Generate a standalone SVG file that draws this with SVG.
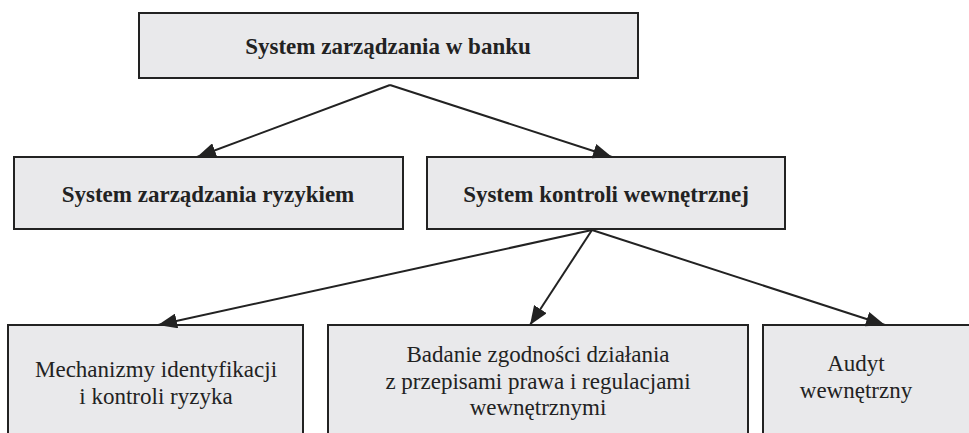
<svg xmlns="http://www.w3.org/2000/svg" width="969" height="433" viewBox="0 0 969 433">
<style>
.box{fill:#e9e9eb;stroke:#222;stroke-width:2}
.b{font-family:'Liberation Serif','Times New Roman','DejaVu Serif',serif;font-weight:bold;font-size:23px;fill:#222;text-anchor:middle}
.r{font-family:'Liberation Serif','Times New Roman','DejaVu Serif',serif;font-size:23px;fill:#222;text-anchor:middle}
.c{fill:none;stroke:#222;stroke-width:2}
</style>
<defs>
<marker id="ah2" viewBox="0 0 10 10" refX="10" refY="5" markerWidth="19" markerHeight="15" markerUnits="userSpaceOnUse" orient="auto" preserveAspectRatio="none">
<path d="M0,0 L10,5 L0,10 Z" fill="#222"/>
</marker>
</defs>
<g id="n1"><rect class="box" x="139" y="13" width="499" height="65"/><text class="b" x="388" y="54">System zarządzania w banku</text></g>
<g id="n2"><rect class="box" x="14" y="157" width="389" height="72"/><text class="b" x="208" y="202">System zarządzania ryzykiem</text></g>
<g id="n3"><rect class="box" x="427" y="157" width="358" height="72"/><text class="b" x="606" y="202">System kontroli wewnętrznej</text></g>
<g id="n4"><rect class="box" x="8" y="325" width="295" height="120"/><text class="r" x="156" y="377">Mechanizmy identyfikacji</text><text class="r" x="156" y="404">i kontroli ryzyka</text></g>
<g id="n5"><rect class="box" x="328" y="325" width="420" height="120"/><text class="r" x="538" y="362">Badanie zgodności działania</text><text class="r" x="538" y="389">z przepisami prawa i regulacjami</text><text class="r" x="538" y="415">wewnętrznymi</text></g>
<g id="n6"><rect class="box" x="763" y="325" width="220" height="120"/><text class="r" x="856" y="371">Audyt</text><text class="r" x="856" y="398">wewnętrzny</text></g>
<g id="connectors">
<line class="c" x1="390" y1="85" x2="197" y2="157" marker-end="url(#ah2)"/>
<line class="c" x1="390" y1="85" x2="612" y2="157" marker-end="url(#ah2)"/>
<line class="c" x1="592" y1="230" x2="158" y2="325" marker-end="url(#ah2)"/>
<line class="c" x1="592" y1="230" x2="530" y2="325" marker-end="url(#ah2)"/>
<line class="c" x1="592" y1="230" x2="885" y2="325" marker-end="url(#ah2)"/>
</g>
</svg>
